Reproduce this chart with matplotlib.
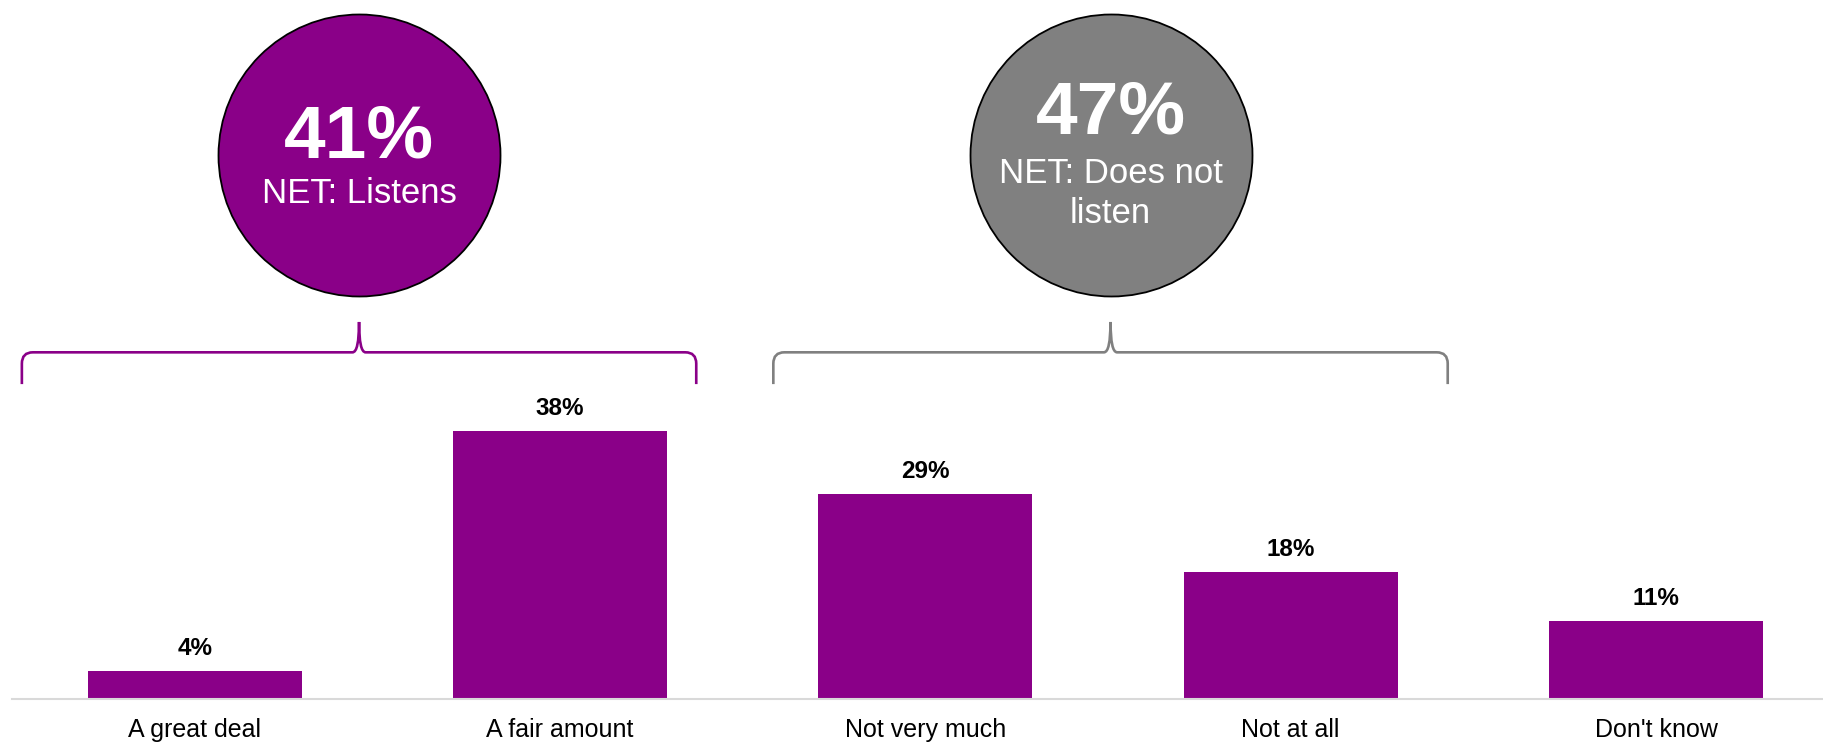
import matplotlib
matplotlib.use("Agg")
import matplotlib.pyplot as plt
from matplotlib.path import Path
from matplotlib.patches import PathPatch
from matplotlib.transforms import offset_copy

plt.rcParams['font.family'] = ['Liberation Sans', 'DejaVu Sans']

categories = ["A great deal", "A fair amount", "Not very much", "Not at all", "Don't know"]
values = [4, 38, 29, 18, 11]

# NET groups: which bars each brace spans, its headline value and label
net_labels = ["NET: Listens", "NET: Does not\nlisten"]
net_values = [41, 47]
net_groups = [(0, 1), (2, 3)]

PURPLE = "#8a0088"
GREY = "#808080"
net_colors = [PURPLE, GREY]
# how far each brace reaches past the outer edges of its bars (axis units)
brace_pads = [(0.18, 0.08), (0.123, 0.137)]

DPI = 100
fig = plt.figure(figsize=(18.24, 7.45), dpi=DPI)
ax = fig.add_axes([12 / 1824, 46 / 745, 1812 / 1824, 699 / 745])

x = list(range(len(categories)))
bars = ax.bar(x, values, width=0.586, color=PURPLE, zorder=2)

for rect, v in zip(bars, values):
    ax.annotate(f"{v}%", (rect.get_x() + rect.get_width() / 2, v),
                xytext=(0, 8), textcoords="offset points",
                ha="center", va="bottom", fontsize=17.5, fontweight="bold")

ax.set_xlim(-0.5, 4.46)
ax.set_ylim(0, 99)
for s in ["top", "right", "left"]:
    ax.spines[s].set_visible(False)
ax.spines["bottom"].set_color("#d9d9d9")
ax.spines["bottom"].set_linewidth(1.5)
ax.set_yticks([])
ax.set_xticks(x)
ax.set_xticklabels(categories, fontsize=18)
ax.tick_params(axis="x", length=0, pad=14)


def brace(ax, x0, x1, xm, y_end, y_line, y_tip, color):
    rx, ry = 0.03, 1.6
    verts = [
        (x0, y_end), (x0, y_line - ry),
        (x0, y_line), (x0 + rx, y_line),
        (xm - rx * 0.6, y_line),
        (xm, y_line), (xm, y_tip),
        (xm, y_line), (xm + rx * 0.6, y_line),
        (x1 - rx, y_line),
        (x1, y_line), (x1, y_line - ry),
        (x1, y_end),
    ]
    codes = [Path.MOVETO, Path.LINETO,
             Path.CURVE3, Path.CURVE3,
             Path.LINETO,
             Path.CURVE3, Path.CURVE3,
             Path.CURVE3, Path.CURVE3,
             Path.LINETO,
             Path.CURVE3, Path.CURVE3,
             Path.LINETO]
    ax.add_patch(PathPatch(Path(verts, codes), fill=False, edgecolor=color,
                           linewidth=1.9, clip_on=False, capstyle="butt"))


radius_px = 141
circle_y = 77.0
for (i0, i1), (pl, pr), val, lab, col in zip(net_groups, brace_pads, net_values,
                                             net_labels, net_colors):
    left = bars[i0].get_x() - pl
    right = bars[i1].get_x() + bars[i1].get_width() + pr
    mid = (left + right) / 2
    brace(ax, left, right, mid, 44.6, 49.1, 53.4, col)

    ax.scatter([mid], [circle_y], s=(2 * radius_px * 72 / DPI) ** 2, color=col,
               edgecolor="black", linewidth=1.3, clip_on=False, zorder=3)
    nlines = lab.count("\n") + 1
    big_off = (17 + 24 * (nlines - 1)) * 72 / DPI
    lab_off = -38 * 72 / DPI
    ax.text(mid, circle_y, f"{val}%", ha="center", va="center", color="white",
            fontsize=54, fontweight="bold", zorder=4,
            transform=offset_copy(ax.transData, fig=fig, y=big_off, units="points"))
    ax.text(mid, circle_y, lab, ha="center", va="center", color="white",
            fontsize=25, linespacing=1.25, zorder=4,
            transform=offset_copy(ax.transData, fig=fig, y=lab_off, units="points"))

fig.savefig("out.png", dpi=DPI)
